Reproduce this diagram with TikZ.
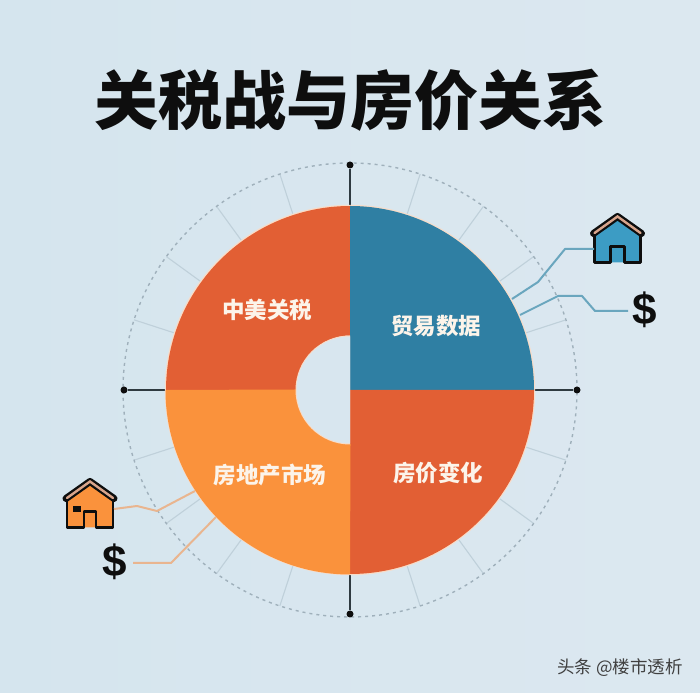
\documentclass[tikz,border=0pt]{standalone}
\usepackage{fontspec}
\usetikzlibrary{calc}
\setmainfont{Liberation Sans}
\newfontfamily\cjk{Noto Sans CJK SC}
\definecolor{bgA}{HTML}{D5E5EE}
\definecolor{bgB}{HTML}{DCE8F0}
\definecolor{redseg}{HTML}{E25F34}
\definecolor{blueseg}{HTML}{2F7FA3}
\definecolor{orangeseg}{HTML}{FA923C}
\definecolor{bluelink}{HTML}{6AA6BE}
\definecolor{orangelink}{HTML}{E9B58F}
\definecolor{housetan}{HTML}{D9A58C}
\definecolor{houseblue}{HTML}{3C9CC4}
\definecolor{tickc}{HTML}{BFD0DA}
\definecolor{dashc}{HTML}{9FB0BB}
\definecolor{axisc}{HTML}{2F3A40}
\definecolor{ink}{HTML}{0E0E0E}
\definecolor{rimc}{HTML}{F8DCC8}
\definecolor{labelc}{HTML}{FCF4EA}
\tikzset{
  x=1pt,y=1pt,
  titletext/.style={font=\cjk\bfseries\fontsize{64}{64}\selectfont,text=ink,inner sep=0pt},
  seglabel/.style={font=\cjk\bfseries\fontsize{22.5}{22.5}\selectfont,text=labelc,inner sep=0pt},
  dollar/.style={font=\bfseries\fontsize{44}{44}\selectfont,text=ink,inner sep=0pt},
  markt/.style={font=\cjk\fontsize{17.5}{17.5}\selectfont,text=black!75,inner sep=0pt},
  tickline/.style={draw=tickc,line width=1.1pt},
  ringline/.style={draw=dashc,line width=1.4pt,dash pattern=on 3pt off 4pt},
  axisline/.style={draw=axisc,line width=1.5pt},
  axisdot/.style={circle,fill=ink,inner sep=0pt,minimum size=7pt},
  bluewire/.style={draw=bluelink,line width=2pt,line join=round},
  orangewire/.style={draw=orangelink,line width=2pt,line join=round},
}
% #1 centre x, #2 bottom y, #3 fill, #4 door half width
\newcommand{\drawhouse}[4]{%
  \begin{scope}[shift={(#1,#2)}]
    \fill[#3] (-23,0) -- (-23,27) -- (0,45) -- (23,27) -- (23,0) -- cycle;
    \draw[ink,line width=2.6pt,line join=round] (-23,27) -- (-23,0) -- (-#4,0) -- (-#4,16) -- (#4,16) -- (#4,0) -- (23,0) -- (23,27);
    \draw[ink,line width=7pt,line cap=round,line join=round] (-24,29) -- (0,46) -- (24,29);
    \draw[housetan,line width=2.4pt,line cap=round,line join=miter] (-23,29.5) -- (0,46) -- (23,29.5);
  \end{scope}}
\begin{document}
\begin{tikzpicture}
\useasboundingbox (0,0) rectangle (700,692);
\shade[left color=bgA,right color=bgB] (0,0) rectangle (700,692);
\coordinate (c) at (350,302);
% ring and ticks
\foreach \a in {18,36,54,72,108,126,144,162,198,216,234,252,288,306,324,342}
  \draw[tickline] ($(c)+(\a:184)$) -- ($(c)+(\a:227)$);
\draw[ringline] (c) circle (227);
% axes
\node[axisdot] (dotN) at (350,527) {};
\node[axisdot] (dotS) at (350,78) {};
\node[axisdot] (dotW) at (124,302) {};
\node[axisdot] (dotE) at (577,302) {};
\draw[axisline] (dotN) -- (dotS);
\draw[axisline] (dotW) -- (dotE);
% sectors
\fill[rimc] (c) circle (185.2);
\fill[redseg]    (350.5,486) arc (90:180:184.5) -- (296,302) arc (180:90:54.5) -- cycle;
\fill[blueseg]   (350,486) arc (90:0:184) -- (350,302) -- cycle;
\fill[redseg]    (534,302) arc (0:-90:184) -- (350,302) -- cycle;
\fill[orangeseg] (165.5,302) arc (180:270:184.5) -- (350.5,248) arc (270:180:54.5) -- cycle;
\fill[rimc] (350,356.5) arc (90:270:54.5) -- cycle;
\fill[bgA!60!bgB] (350,355.5) arc (90:270:53.5) -- cycle;
% labels
\node[titletext] (title) at (350,592) {关税战与房价关系};
\node[seglabel] (s1) at (267,382) {中美关税};
\node[seglabel] (s2) at (436,366) {贸易数据};
\node[seglabel] (s3) at (438,219) {房价变化};
\node[seglabel] (s4) at (270,217) {房地产市场};
\node[markt] (mark) at (620,24) {头条 @楼市透析};
% icons
\drawhouse{617.5}{429.5}{houseblue}{7}
\drawhouse{90}{164.5}{orangeseg}{6}
\fill[ink] (73,180) rectangle (81,186);
\coordinate (houseB) at (594,443);
\coordinate (houseO) at (114,183);
\node[dollar] (dollarB) at (645,382) {\$};
\node[dollar] (dollarO) at (115,130) {\$};
\coordinate (rimB1) at (512,393);
\coordinate (rimB2) at (520,377);
\coordinate (rimO1) at (195,201);
\coordinate (rimO2) at (216,175);
\coordinate (endB) at (628,381);
\coordinate (endO) at (133,129);
% connectors
\draw[bluewire] (rimB1) -- (538,410) -- (565,443) -- (houseB);
\draw[bluewire] (rimB2) -- (558,396) -- (582,396) -- (595,381) -- (endB);
\draw[orangewire] (houseO) -- (137,186) -- (157,181) -- (rimO1);
\draw[orangewire] (endO) -- (171,129) -- (rimO2);
\end{tikzpicture}
\end{document}
